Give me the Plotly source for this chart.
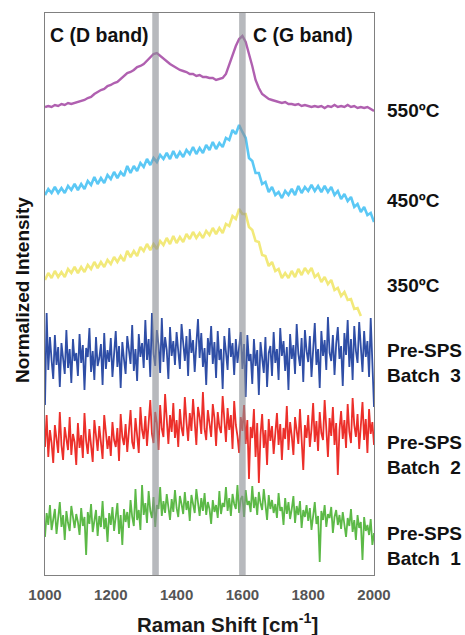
import plotly.graph_objects as go

# Raman shift grids (cm^-1)
x_coarse = list(range(1000, 2001, 10))
x_fine = list(range(1000, 2001, 5))
x_350 = list(range(1000, 1961, 10))

# Stacked (offset) normalized intensities
i_550 = [468, 469, 468, 470, 469, 471, 470, 472, 471, 472, 473, 474, 475, 477, 478, 481, 483, 485, 486, 489,
         490, 492, 493, 496, 500, 502, 503, 505, 508, 509, 511, 514, 517, 521, 522, 519, 516, 513, 511, 509,
         507, 505, 504, 503, 501, 501, 499, 500, 498, 498, 497, 497, 495, 496, 497, 501, 511, 519, 529, 536,
         539, 533, 522, 509, 495, 487, 481, 478, 476, 475, 474, 473, 472, 473, 471, 471, 470, 471, 469, 470,
         469, 468, 469, 468, 469, 467, 469, 468, 470, 468, 469, 468, 470, 468, 469, 467, 468, 467, 468, 466,
         464]

i_450 = [380, 386, 382, 388, 382, 387, 382, 389, 385, 391, 385, 391, 386, 394, 390, 398, 391, 397, 392, 400,
         396, 403, 397, 403, 399, 409, 402, 409, 404, 412, 408, 416, 410, 417, 413, 420, 416, 422, 416, 424,
         417, 423, 418, 425, 421, 428, 421, 427, 422, 430, 425, 433, 426, 432, 428, 437, 435, 445, 441, 450,
         443, 437, 417, 414, 402, 402, 391, 393, 383, 388, 380, 383, 377, 384, 380, 386, 380, 389, 382, 388,
         384, 390, 384, 389, 383, 389, 383, 388, 380, 384, 376, 381, 374, 378, 368, 371, 363, 368, 360, 362,
         353]

i_350 = [295, 302, 297, 304, 298, 303, 298, 306, 302, 308, 302, 308, 303, 310, 306, 313, 307, 313, 308, 315,
         311, 318, 313, 319, 314, 324, 318, 324, 319, 328, 324, 331, 325, 331, 326, 334, 330, 337, 331, 339,
         332, 338, 333, 341, 336, 343, 337, 342, 337, 344, 340, 347, 341, 347, 342, 351, 349, 359, 356, 366,
         361, 361, 348, 345, 334, 333, 320, 319, 309, 313, 304, 306, 297, 302, 297, 304, 298, 306, 300, 307,
         302, 307, 298, 301, 293, 298, 291, 295, 285, 287, 279, 283, 275, 276, 266, 267, 259]

i_b3 = [170, 262, 205, 238, 215, 196, 240, 210, 228, 188, 232, 219, 201, 245, 207, 226, 192, 236, 214, 222,
        199, 241, 212, 230, 185, 227, 218, 247, 203, 224, 195, 238, 209, 217, 231, 190, 242, 206, 225, 213,
        237, 198, 220, 244, 208, 229, 187, 233, 216, 201, 239, 224, 211, 250, 204, 226, 194, 241, 218, 232,
        207, 255, 215, 236, 198, 262, 221, 209, 245, 230, 202, 257, 213, 238, 225, 196, 248, 219, 234, 210,
        243, 224, 206, 251, 228, 214, 239, 199, 246, 222, 235, 203, 231, 256, 217, 242, 208, 227, 190, 237,
        220, 249, 211, 233, 197, 244, 215, 226, 186, 239, 223, 205, 247, 218, 232, 200, 236, 212, 228, 243,
        206, 231, 178, 240, 214, 221, 191, 236, 209, 225, 180, 233, 217, 202, 238, 188, 222, 229, 199, 243,
        212, 226, 195, 247, 219, 234, 204, 228, 185, 241, 216, 230, 201, 251, 221, 209, 237, 193, 245, 224,
        213, 239, 198, 233, 252, 210, 226, 187, 244, 219, 235, 205, 258, 222, 214, 240, 200, 231, 248, 216,
        229, 189, 242, 220, 255, 208, 236, 195, 249, 224, 212, 253, 226, 203, 244, 218, 234, 198, 257, 211,
        168]

i_b2 = [128, 160, 118, 145, 132, 112, 150, 138, 122, 163, 130, 115, 148, 136, 125, 158, 120, 141, 133, 110,
        152, 127, 140, 117, 162, 134, 121, 146, 129, 113, 155, 137, 124, 149, 131, 116, 160, 142, 126, 139,
        119, 153, 135, 128, 147, 114, 161, 138, 130, 151, 123, 144, 165, 133, 126, 157, 140, 122, 168, 145,
        136, 159, 129, 150, 175, 141, 132, 163, 152, 125, 170, 146, 138, 181, 149, 131, 160, 143, 172, 137,
        155, 128, 166, 147, 139, 178, 153, 134, 162, 144, 176, 150, 130, 168, 158, 141, 183, 146, 135, 165,
        152, 138, 171, 157, 129, 163, 148, 142, 179, 154, 133, 167, 145, 160, 126, 174, 150, 139, 122, 158,
        144, 170, 131, 155, 96, 148, 137, 166, 118, 152, 92, 140, 161, 127, 145, 110, 156, 134, 149, 121,
        143, 162, 130, 151, 115, 147, 136, 169, 125, 153, 139, 120, 158, 144, 131, 166, 141, 105, 150, 137,
        160, 128, 146, 172, 133, 154, 124, 163, 142, 135, 175, 148, 118, 157, 139, 168, 130, 152, 100, 145,
        164, 136, 155, 127, 171, 143, 132, 177, 150, 138, 161, 126, 147, 173, 135, 156, 122, 166, 141, 153,
        130]

i_b1 = [38, 62, 50, 70, 45, 57, 66, 41, 54, 73, 48, 60, 35, 64, 52, 44, 69, 56, 47, 61,
        53, 40, 67, 49, 58, 20, 63, 51, 71, 43, 55, 65, 39, 59, 48, 74, 46, 57, 33, 62,
        50, 68, 44, 56, 72, 41, 60, 30, 66, 53, 63, 47, 75, 58, 49, 86, 55, 65, 45, 90,
        60, 72, 52, 84, 64, 57, 78, 48, 70, 66, 88, 59, 74, 62, 81, 68, 55, 76, 63, 85,
        67, 58, 79, 71, 61, 83, 65, 74, 54, 80, 69, 62, 86, 72, 59, 77, 64, 82, 60, 73,
        66, 51, 75, 63, 70, 57, 84, 61, 72, 68, 88, 64, 77, 59, 81, 71, 66, 90, 62, 76,
        79, 58, 85, 70, 74, 63, 89, 67, 78, 60, 83, 72, 65, 86, 69, 55, 80, 66, 75, 62,
        71, 57, 82, 64, 68, 50, 77, 61, 73, 56, 66, 79, 52, 69, 60, 74, 47, 65, 58, 70,
        54, 67, 45, 62, 73, 51, 59, 13, 64, 55, 70, 48, 61, 57, 68, 42, 58, 65, 50, 60,
        46, 63, 52, 38, 57, 49, 66, 43, 55, 35, 60, 47, 53, 15, 58, 44, 50, 40, 56, 30,
        42]

series = [
    ("Pre-SPS Batch 1", x_fine, i_b1, "#5cb947", 1.8),
    ("Pre-SPS Batch 2", x_fine, i_b2, "#ec2f2a", 1.8),
    ("Pre-SPS Batch 3", x_fine, i_b3, "#2f4ea6", 1.8),
    ("350ºC", x_350, i_350, "#f2e97a", 2.6),
    ("450ºC", x_coarse, i_450, "#5bc8f5", 2.6),
    ("550ºC", x_coarse, i_550, "#b060b0", 2.4),
]

band_centers = [1336, 1600]
band_names = ["C (D band)", "C (G band)"]

label_texts = ["550ºC", "450ºC", "350ºC",
               "Pre-SPS<br>Batch\u00a0\u00a03", "Pre-SPS<br>Batch\u00a0\u00a02", "Pre-SPS<br>Batch\u00a0\u00a01"]
label_y = [0.827, 0.667, 0.516, 0.377, 0.2135, 0.0516]

FONT = "Liberation Sans, Arial, sans-serif"

fig = go.Figure()
for name, xs, ys, col, lw in series:
    fig.add_trace(go.Scatter(x=xs, y=ys, mode="lines", name=name,
                             line=dict(color=col, width=lw), showlegend=False))

for c in band_centers:
    fig.add_shape(type="rect", xref="x", yref="paper", x0=c - 10, x1=c + 10, y0=0, y1=1,
                  fillcolor="rgba(138,142,148,0.62)", line=dict(width=0), layer="above")

fig.add_annotation(xref="paper", yref="paper", x=0.008, y=0.961, xanchor="left", yanchor="middle",
                   text=band_names[0], showarrow=False,
                   font=dict(family=FONT, size=19.5, color="#111111", weight="bold"))
fig.add_annotation(xref="paper", yref="paper", x=0.627, y=0.961, xanchor="left", yanchor="middle",
                   text=band_names[1], showarrow=False,
                   font=dict(family=FONT, size=19.5, color="#111111", weight="bold"))

for t, yy in zip(label_texts, label_y):
    fig.add_annotation(xref="paper", yref="paper", x=1.033, y=yy, xanchor="left", yanchor="middle",
                       text=t, showarrow=False, align="left",
                       font=dict(family=FONT, size=19, color="#111111", weight="bold"))

fig.add_annotation(xref="paper", yref="paper", x=-0.07, y=0.507, xanchor="center", yanchor="middle",
                   text="Normalized Intensity", showarrow=False, textangle=-90,
                   font=dict(family=FONT, size=19, color="#111111", weight="bold"))
fig.add_annotation(xref="paper", yref="paper", x=0.555, y=-0.085, xanchor="center", yanchor="middle",
                   text="Raman Shift [cm<sup>-1</sup>]", showarrow=False,
                   font=dict(family=FONT, size=20.5, color="#1a1a1a", weight="bold"))

fig.update_layout(
    width=465, height=635,
    margin=dict(l=45, r=91, t=13, b=60),
    paper_bgcolor="white", plot_bgcolor="white",
    xaxis=dict(range=[1000, 2000], tickvals=[1000, 1200, 1400, 1600, 1800, 2000],
               showline=True, mirror=True, linecolor="#808080", linewidth=1,
               showgrid=False, zeroline=False, ticks="", ticklabelstandoff=6,
               tickfont=dict(family=FONT, size=15, color="#555555", weight="bold")),
    yaxis=dict(range=[0, 562], showline=True, mirror=True, linecolor="#808080", linewidth=1,
               showgrid=False, zeroline=False, showticklabels=False, ticks=""),
)

fig.write_html("out.html", config={"displayModeBar": False},
               post_script="document.body.style.margin='0';document.body.style.overflow='hidden';")
